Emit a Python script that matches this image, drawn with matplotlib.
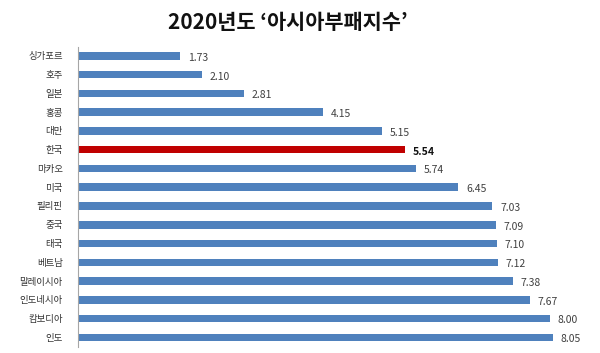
import matplotlib
matplotlib.use('Agg')
from matplotlib import pyplot as plt

plt.rcParams['font.family'] = ['Noto Sans CJK KR', 'DejaVu Sans']

countries = ['싱가포르', '호주', '일본', '홍콩', '대만', '한국', '마카오', '미국',
             '필리핀', '중국', '태국', '베트남', '말레이시아', '인도네시아', '캄보디아', '인도']
values = [1.73, 2.10, 2.81, 4.15, 5.15, 5.54, 5.74, 6.45,
          7.03, 7.09, 7.10, 7.12, 7.38, 7.67, 8.00, 8.05]
highlight = '한국'

fig = plt.figure(figsize=(6, 3.53), dpi=100)
ax = fig.add_axes([0.13, 0.018, 0.85, 0.85])

colors = ['#c00000' if c == highlight else '#4f81bd' for c in countries]
y = list(range(len(countries)))
ax.barh(y, values, height=0.4, color=colors)

for yi, v, c in zip(y, values, countries):
    ax.text(v + 0.13, yi + 0.1, f'{v:.2f}', va='center', ha='left', fontsize=7.5,
            color='#111111' if c == highlight else '#404040',
            fontweight='bold' if c == highlight else 'normal')

ax.set_yticks(y)
ax.set_yticklabels(countries, fontsize=6.8, color='#333333')
ax.set_ylim(len(countries) - 0.5, -0.5)
ax.set_xlim(0, 8.65)
ax.set_xticks([])
ax.tick_params(axis='y', length=0, pad=11)
for s in ['top', 'right', 'bottom']:
    ax.spines[s].set_visible(False)
ax.spines['left'].set_color('#a6a6a6')

fig.text(0.48, 0.935, '2020년도 ‘아시아부패지수’', ha='center', va='center',
         fontsize=15, fontweight='bold', color='#111111')

fig.savefig('out.png', dpi=100)
